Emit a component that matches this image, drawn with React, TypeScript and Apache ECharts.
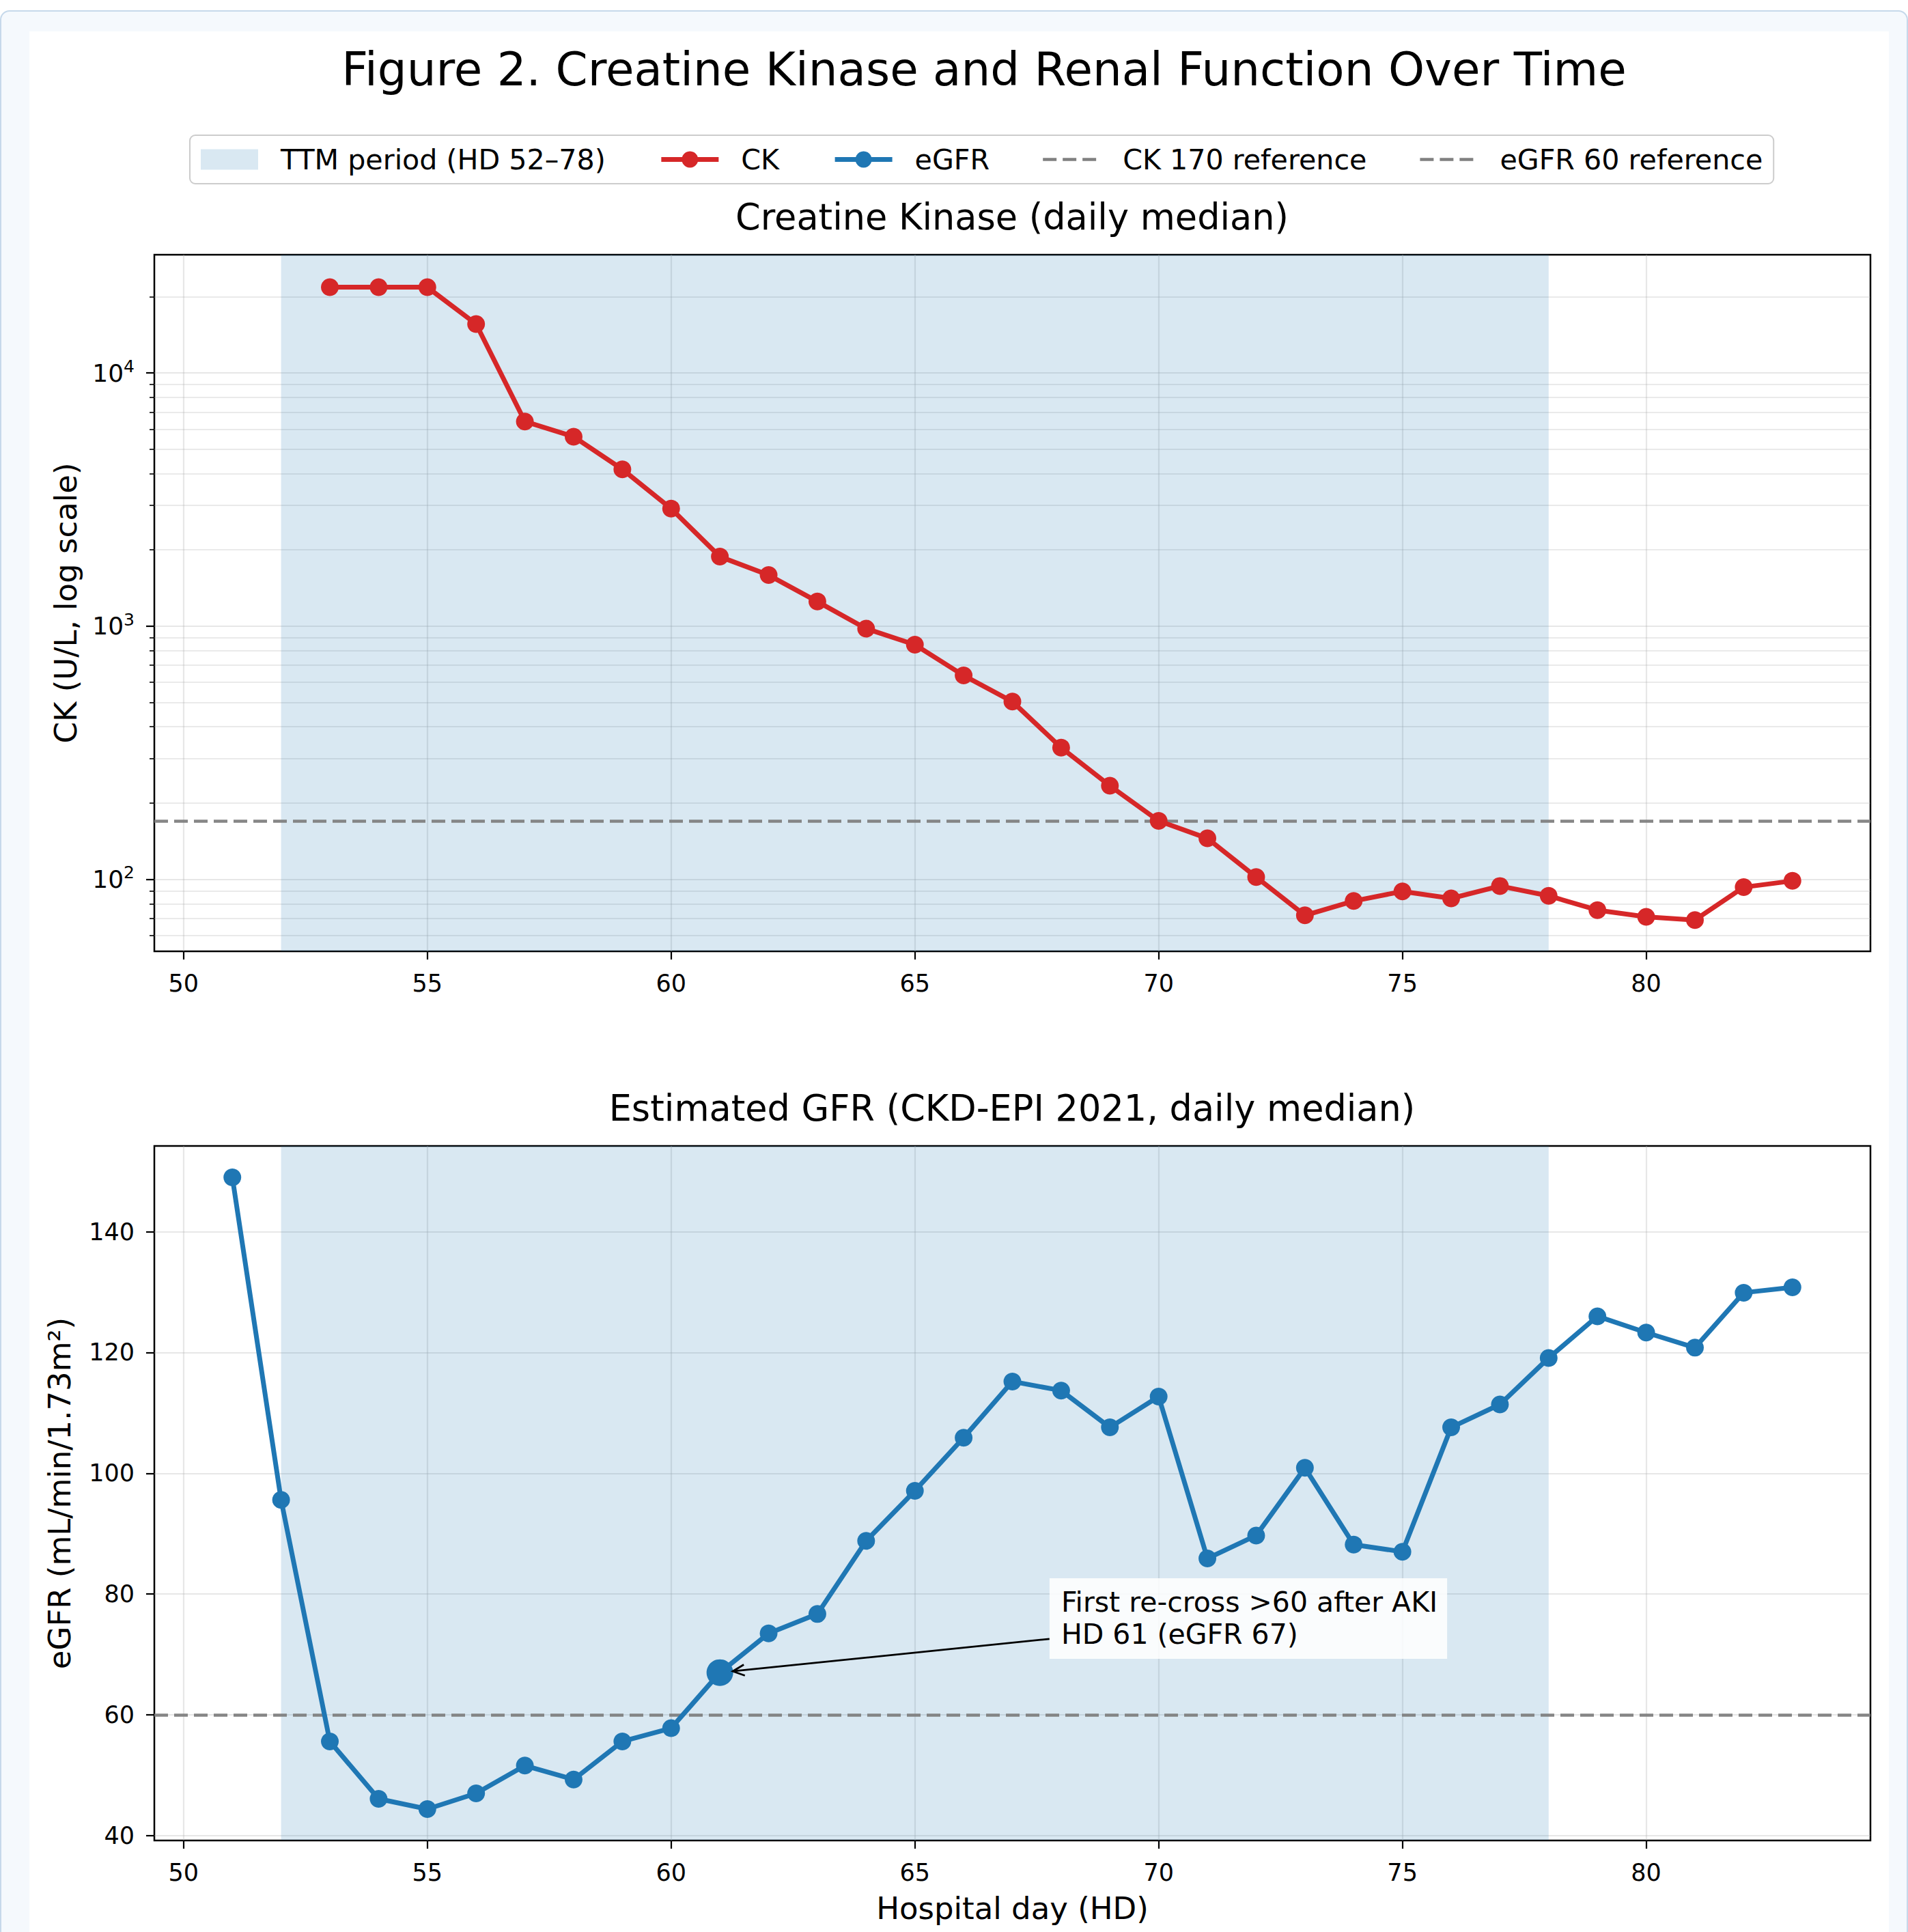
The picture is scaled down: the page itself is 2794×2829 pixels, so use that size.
import React, { useEffect, useRef } from "react";
import * as echarts from "echarts";

const FONT = "DejaVu Sans";

// ---------- data ----------
const ckDays = [53, 54, 55, 56, 57, 58, 59, 60, 61, 62, 63, 64, 65, 66, 67, 68, 69, 70, 71, 72, 73, 74, 75, 76, 77, 78, 79, 80, 81, 82, 83];
const ckValues = [21800, 21800, 21800, 15600, 6430, 5600, 4160, 2910, 1880, 1590, 1250, 977, 844, 638, 503, 331, 234, 170, 145, 102, 72, 82, 89.5, 84, 94, 86, 75.5, 71, 69, 93, 98.5];

const egfrDays = [51, 52, 53, 54, 55, 56, 57, 58, 59, 60, 61, 62, 63, 64, 65, 66, 67, 68, 69, 70, 71, 72, 73, 74, 75, 76, 77, 78, 79, 80, 81, 82, 83];
const egfrValues = [149, 95.6, 55.6, 46.1, 44.4, 47.0, 51.6, 49.3, 55.6, 57.8, 67.0, 73.5, 76.7, 88.8, 97.1, 105.9, 115.2, 113.7, 107.6, 112.7, 85.9, 89.7, 100.9, 88.2, 87.0, 107.6, 111.4, 119.1, 126.0, 123.3, 120.8, 129.9, 130.8];

const dayTicks = [50, 55, 60, 65, 70, 75, 80];
const ckMajorTicks = [100, 1000, 10000];
const ckMinorTicks = [60, 70, 80, 90, 200, 300, 400, 500, 600, 700, 800, 900, 2000, 3000, 4000, 5000, 6000, 7000, 8000, 9000, 20000];
const egfrTicks = [40, 60, 80, 100, 120, 140];

const dayRange = [49.4, 84.6];
const ckRange = [51.9, 29300];
const egfrRange = [39.2, 154.2];

const ttmPeriod = [52, 78];
const ckReference = 170;
const egfrReference = 60;

const annotationDay = 61;
const annotationTextAt = [68, 72];
const annotationText = "First re-cross >60 after AKI\nHD 61 (eGFR 67)";

const TTM_NAME = "TTM period (HD 52–78)";

// ---------- styles ----------
const RED = "#d62728";
const BLUE = "#1f77b4";
const GRAY = "#808080";
const SHADE = "rgba(31,119,180,0.17)";
const gridLineStyle = { color: "rgba(176,176,176,0.3)", width: 2.2 };
const refLineStyle = { color: GRAY, width: 4.5, type: [20, 9] as number[], opacity: 0.95 };
const tickStyle = { color: "#000", width: 2.2 };

// dashed-line legend glyph (with invisible corner points to keep its box 84x30)
const DASH_ICON =
  "path://M0,0h0.01v0.01h-0.01Z M84,0h0.01v0.01h-0.01Z M0,30h0.01v0.01h-0.01Z M84,30h0.01v0.01h-0.01Z " +
  "M0,12.75h20v4.5h-20Z M29,12.75h20v4.5h-20Z M58,12.75h20v4.5h-20Z";

const pairs = (xs: number[], ys: number[]) => xs.map((x, i) => [x, ys[i]]);

function xAxis(gridIndex: number, name?: string) {
  return {
    type: "value",
    gridIndex,
    min: dayRange[0],
    max: dayRange[1],
    axisLine: { show: false },
    axisTick: { show: true, customValues: dayTicks, length: 12, lineStyle: tickStyle },
    axisLabel: { show: true, customValues: dayTicks, fontSize: 35, fontFamily: FONT, color: "#000", margin: 29 },
    splitLine: { show: true, lineStyle: gridLineStyle },
    name: name || "",
    nameLocation: "middle",
    nameGap: 77,
    nameTextStyle: { fontSize: 45, fontFamily: FONT, color: "#000" },
  };
}

export default function App() {
  const ref = useRef<HTMLDivElement>(null);

  useEffect(() => {
    if (!ref.current) return;
    const chart = echarts.init(ref.current, null, { renderer: "svg", width: 2794, height: 2829 });

    const option: any = {
      animation: false,
      backgroundColor: "transparent",
      textStyle: { fontFamily: FONT },
      grid: [
        { left: 226, top: 373, width: 2513, height: 1020, show: true, borderColor: "#000", borderWidth: 2.5, backgroundColor: "transparent", outerBoundsMode: "none", containLabel: false },
        { left: 226, top: 1678, width: 2513, height: 1017, show: true, borderColor: "#000", borderWidth: 2.5, backgroundColor: "transparent", outerBoundsMode: "none", containLabel: false },
      ],
      xAxis: [xAxis(0), xAxis(1, "Hospital day (HD)")],
      yAxis: [
        {
          type: "log",
          logBase: 10,
          gridIndex: 0,
          position: "left",
          min: ckRange[0],
          max: ckRange[1],
          axisLine: { show: false },
          axisTick: { show: true, customValues: ckMajorTicks, length: 12, lineStyle: tickStyle },
          axisLabel: {
            show: true,
            customValues: ckMajorTicks,
            fontSize: 36,
            fontFamily: FONT,
            color: "#000",
            margin: 29,
            lineHeight: 44,
            formatter: (v: number) => `10{sup|${Math.round(Math.log10(v))}}`,
            rich: { sup: { fontSize: 25, fontFamily: FONT, color: "#000", verticalAlign: "top", lineHeight: 26 } },
          },
          splitLine: { show: true, lineStyle: gridLineStyle },
          name: "CK (U/L, log scale)",
          nameLocation: "middle",
          nameRotate: 90,
          nameGap: 107,
          nameTextStyle: { fontSize: 45, fontFamily: FONT, color: "#000" },
        },
        {
          type: "log",
          logBase: 10,
          gridIndex: 0,
          position: "left",
          min: ckRange[0],
          max: ckRange[1],
          axisLine: { show: false },
          axisTick: { show: true, customValues: ckMinorTicks, length: 7, lineStyle: { color: "#000", width: 1.6 } },
          axisLabel: { show: false },
          splitLine: { show: true, lineStyle: { color: "rgba(176,176,176,0.27)", width: 1.8 } },
        },
        {
          type: "value",
          gridIndex: 1,
          position: "left",
          min: egfrRange[0],
          max: egfrRange[1],
          axisLine: { show: false },
          axisTick: { show: true, customValues: egfrTicks, length: 12, lineStyle: tickStyle },
          axisLabel: { show: true, customValues: egfrTicks, fontSize: 35, fontFamily: FONT, color: "#000", margin: 29 },
          splitLine: { show: true, lineStyle: gridLineStyle },
          name: "eGFR (mL/min/1.73m²)",
          nameLocation: "middle",
          nameRotate: 90,
          nameGap: 116,
          nameTextStyle: { fontSize: 45, fontFamily: FONT, color: "#000" },
        },
      ],
      legend: {
        left: 278,
        top: 198,
        orient: "horizontal",
        itemWidth: 84,
        itemHeight: 30,
        itemGap: 78,
        padding: [15, 16, 15, 16],
        borderColor: "#cccccc",
        borderWidth: 2,
        borderRadius: 8,
        backgroundColor: "#ffffff",
        selectedMode: false,
        textStyle: { fontFamily: FONT, fontSize: 41.2, color: "#000", padding: [0, 0, 0, 28] },
        data: [
          { name: TTM_NAME, icon: "rect", itemStyle: { color: SHADE, borderWidth: 0 } },
          { name: "CK", lineStyle: { width: 7 } },
          { name: "eGFR", lineStyle: { width: 7 } },
          { name: "CK 170 reference", icon: DASH_ICON, itemStyle: { color: GRAY, borderWidth: 0 } },
          { name: "eGFR 60 reference", icon: DASH_ICON, itemStyle: { color: GRAY, borderWidth: 0 } },
        ],
      },
      series: [
        {
          name: TTM_NAME,
          type: "line",
          xAxisIndex: 0,
          yAxisIndex: 0,
          data: [],
          itemStyle: { color: SHADE },
          markArea: { silent: true, itemStyle: { color: SHADE }, data: [[{ xAxis: ttmPeriod[0] }, { xAxis: ttmPeriod[1] }]] },
        },
        {
          name: TTM_NAME,
          type: "line",
          xAxisIndex: 1,
          yAxisIndex: 2,
          data: [],
          itemStyle: { color: SHADE },
          markArea: { silent: true, itemStyle: { color: SHADE }, data: [[{ xAxis: ttmPeriod[0] }, { xAxis: ttmPeriod[1] }]] },
        },
        {
          name: "CK 170 reference",
          type: "line",
          xAxisIndex: 0,
          yAxisIndex: 0,
          data: [],
          symbol: "none",
          itemStyle: { color: GRAY },
          lineStyle: refLineStyle,
          z: 3,
          markLine: { silent: true, symbol: ["none", "none"], label: { show: false }, lineStyle: refLineStyle, data: [{ yAxis: ckReference }] },
        },
        {
          name: "eGFR 60 reference",
          type: "line",
          xAxisIndex: 1,
          yAxisIndex: 2,
          data: [],
          symbol: "none",
          itemStyle: { color: GRAY },
          lineStyle: refLineStyle,
          z: 3,
          markLine: { silent: true, symbol: ["none", "none"], label: { show: false }, lineStyle: refLineStyle, data: [{ yAxis: egfrReference }] },
        },
        {
          name: "CK",
          type: "line",
          xAxisIndex: 0,
          yAxisIndex: 0,
          data: pairs(ckDays, ckValues),
          symbol: "circle",
          symbolSize: 26,
          itemStyle: { color: RED, opacity: 1 },
          lineStyle: { color: RED, width: 7 },
          z: 5,
          emphasis: { disabled: true },
        },
        {
          name: "eGFR",
          type: "line",
          xAxisIndex: 1,
          yAxisIndex: 2,
          data: pairs(egfrDays, egfrValues),
          symbol: "circle",
          symbolSize: 26,
          itemStyle: { color: BLUE, opacity: 1 },
          lineStyle: { color: BLUE, width: 7 },
          z: 5,
          emphasis: { disabled: true },
        },
        {
          name: "eGFR highlight",
          type: "scatter",
          xAxisIndex: 1,
          yAxisIndex: 2,
          data: [[annotationDay, egfrValues[egfrDays.indexOf(annotationDay)]]],
          symbol: "circle",
          symbolSize: 39,
          itemStyle: { color: BLUE, opacity: 1 },
          z: 6,
          emphasis: { disabled: true },
        },
      ],
    };

    chart.setOption(option);

    // annotation positioned through the library's scales
    const P = chart.convertToPixel({ gridIndex: 1 } as any, [annotationDay, egfrValues[egfrDays.indexOf(annotationDay)]]) as number[];
    const A = chart.convertToPixel({ gridIndex: 1 } as any, annotationTextAt) as number[];
    const boxLeft = A[0] - 17;
    const boxTop = A[1] - 94;
    const boxW = 584;
    const boxH = 118;
    const C = [boxLeft + boxW / 2, boxTop + boxH / 2];
    const t = (boxLeft - C[0]) / (P[0] - C[0]);
    const S = [C[0] + t * (P[0] - C[0]), C[1] + t * (P[1] - C[1])];
    const dx = C[0] - P[0];
    const dy = C[1] - P[1];
    const len = Math.sqrt(dx * dx + dy * dy);
    const u = [dx / len, dy / len];
    const n = [-u[1], u[0]];
    const T = [P[0] + u[0] * 19, P[1] + u[1] * 19];
    const hl = 17;
    const hw = 8;
    const H1 = [T[0] + u[0] * hl + n[0] * hw, T[1] + u[1] * hl + n[1] * hw];
    const H2 = [T[0] + u[0] * hl - n[0] * hw, T[1] + u[1] * hl - n[1] * hw];

    chart.setOption({
      graphic: [
        {
          type: "text",
          x: 1441,
          y: 101,
          style: { text: "Figure 2. Creatine Kinase and Renal Function Over Time", fontSize: 67.5, fontFamily: FONT, fill: "#000", align: "center", verticalAlign: "middle" },
        },
        {
          type: "text",
          x: 1482,
          y: 317,
          style: { text: "Creatine Kinase (daily median)", fontSize: 52.5, fontFamily: FONT, fill: "#000", align: "center", verticalAlign: "middle" },
        },
        {
          type: "text",
          x: 1482,
          y: 1622,
          style: { text: "Estimated GFR (CKD-EPI 2021, daily median)", fontSize: 52.5, fontFamily: FONT, fill: "#000", align: "center", verticalAlign: "middle" },
        },
        {
          type: "line",
          z: 90,
          shape: { x1: S[0], y1: S[1], x2: T[0], y2: T[1] },
          style: { stroke: "#000", lineWidth: 2.8 },
        },
        {
          type: "polyline",
          z: 90,
          shape: { points: [H1, T, H2] },
          style: { stroke: "#000", lineWidth: 2.8, fill: null },
        },
        {
          type: "text",
          z: 100,
          x: boxLeft,
          y: boxTop,
          style: {
            text: annotationText,
            fontSize: 41,
            fontFamily: FONT,
            fill: "#000",
            lineHeight: 47,
            align: "left",
            verticalAlign: "top",
            backgroundColor: "rgba(255,255,255,0.85)",
            padding: [12, 14, 12, 17],
          },
        },
      ],
    });

    return () => chart.dispose();
  }, []);

  return (
    <div style={{ position: "absolute", left: 0, top: 0, width: 2794, height: 2829, background: "#ffffff", overflow: "hidden" }}>
      <div
        style={{
          position: "absolute",
          left: 0,
          top: 15,
          width: 2794,
          height: 2900,
          boxSizing: "border-box",
          border: "2px solid #c6d9eb",
          borderRadius: 14,
          background: "#f5f9fd",
        }}
      />
      <div style={{ position: "absolute", left: 43, top: 46, width: 2723, height: 2829 - 46, background: "#ffffff" }} />
      <div ref={ref} style={{ position: "absolute", left: 0, top: 0, width: 2794, height: 2829 }} />
    </div>
  );
}
